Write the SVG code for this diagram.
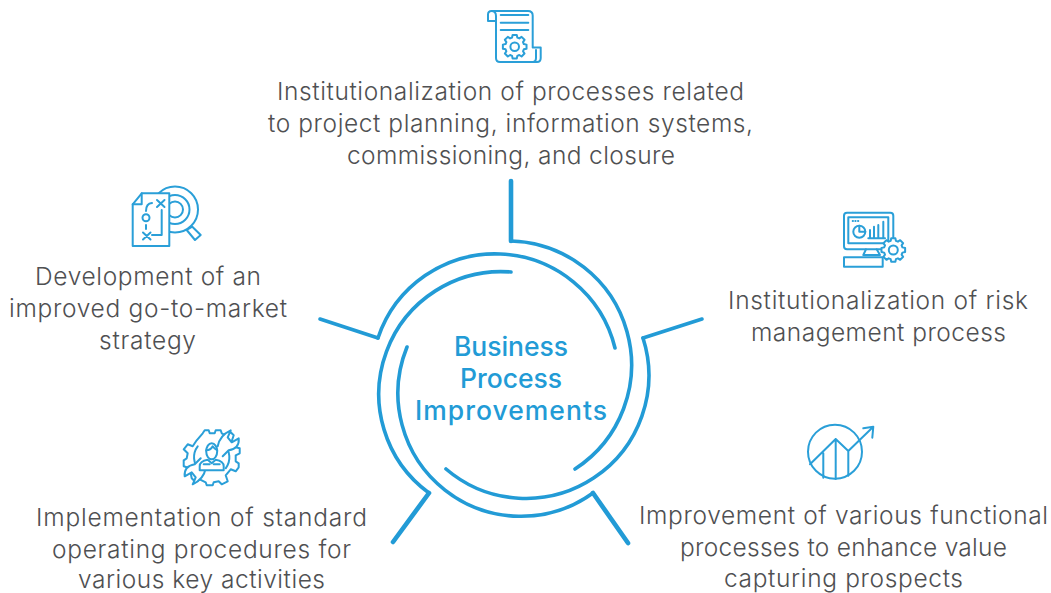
<svg xmlns="http://www.w3.org/2000/svg" width="1051" height="593" viewBox="0 0 1051 593">
<style>
.t{font-family:Inter,"Liberation Sans",sans-serif;font-size:24.500px;font-weight:300;fill:#4f5052}
.c{font-family:Inter,"Liberation Sans",sans-serif;font-size:26.500px;font-weight:500;fill:#229bd6}
.i{fill:none;stroke:#2a9fd8;stroke-width:2;stroke-linecap:round;stroke-linejoin:round}
.w{fill:#fff}
.a{fill:none;stroke:#229bd6;stroke-width:3.6;stroke-linecap:round;stroke-linejoin:miter}
.s{stroke-width:4.600}
</style>
<defs>
<polygon id="gear" points="9.13,-2.62 11.82,-2.08 11.82,2.08 9.13,2.62 8.31,4.61 9.83,6.88 6.88,9.83 4.61,8.31 2.62,9.13 2.08,11.82 -2.08,11.82 -2.62,9.13 -4.61,8.31 -6.88,9.83 -9.83,6.88 -8.31,4.61 -9.13,2.62 -11.82,2.08 -11.82,-2.08 -9.13,-2.62 -8.31,-4.61 -9.83,-6.88 -6.88,-9.83 -4.61,-8.31 -2.62,-9.13 -2.08,-11.82 2.08,-11.82 2.62,-9.13 4.61,-8.31 6.88,-9.83 9.83,-6.88 8.31,-4.61"/>
</defs>
<g id="connectors">
<path class="a" d="M511,241A124,124 0 0 1 575,469"/>
<path class="a" d="M643,338A123,123 0 0 1 446,469"/>
<path class="a" d="M593,493A123,123 0 0 1 407,347"/>
<path class="a" d="M429,493A122.500,122.500 0 0 1 511,272"/>
<path class="a" d="M378,338A123.500,123.500 0 0 1 615,348"/>
<path class="a s" d="M511,181V241"/>
<path class="a" d="M702,319L643,338"/>
<path class="a s" d="M628,543L593,493"/>
<path class="a s" d="M393,542L429,493"/>
<path class="a" d="M320,319L378,338"/>
</g>
<g id="center"><text class="c" x="454" y="356" textLength="114">Business</text><text class="c" x="460" y="388" textLength="102">Process</text><text class="c" x="415" y="420" textLength="192">Improvements</text></g>
<g id="node-top">
<g class="i">
<path d="M496,21H488V14.500Q488,11 491.500,11Q496,11 496,16V58Q496,62 500,62H537Q540.700,62 540.700,58V47.500H532.700M532.700,47.500V15.500Q532.700,11 528,11H491.500M500.700,15H528.300M500.700,22.700H528.300M500.700,30H528.300M532.700,62Q536,62 536,58V50"/>
<use href="#gear" transform="translate(514.700,46.700)"/>
<circle cx="514.700" cy="46.700" r="4.300"/>
</g>
<text class="t" x="277" y="100" textLength="467">Institutionalization of processes related</text>
<text class="t" x="268" y="132" textLength="485">to project planning, information systems,</text>
<text class="t" x="347" y="164" textLength="328">commissioning, and closure</text>
</g>
<g id="node-left">
<g class="i">
<circle cx="175" cy="209.500" r="23"/><circle cx="175" cy="209.500" r="14.500"/><circle cx="175" cy="209.500" r="8"/>
<path class="w" d="M186.700,230L195,240L200.700,235L192.300,226.700Z"/>
<path class="w" d="M132.700,204.300L141.700,193.300H169.300V246H132.700Z"/>
<path d="M141.700,193.300V204.300H132.700M157,200L164.500,207M164.500,200L157,207M146,211Q146,203.500 152,203M146,225V229M161.700,210V235H152M143,232.500L150.500,239.500M150.500,232.500L143,239.500"/>
<circle cx="146" cy="217.700" r="3.500"/>
</g>
<text class="t" x="35" y="285" textLength="226">Development of an</text>
<text class="t" x="9" y="317" textLength="278">improved go-to-market</text>
<text class="t" x="99" y="349" textLength="97">strategy</text>
</g>
<g id="node-right">
<g class="i">
<rect x="844" y="212.700" width="49.300" height="36.600" rx="3"/>
<rect x="848.300" y="217.300" width="40" height="26"/>
<path d="M852.700,221H853M855.300,221H855.600M858,221H858.300"/>
<circle cx="859.300" cy="231.700" r="6"/>
<path d="M859.300,225.700V231.700H865.300M868.300,238.300H885M870,238.300V230M874,238.300V226.700M878.300,238.300V225M883.300,238.300V221.700M866,249.300L863.300,255H880L876.700,249.300"/>
<rect x="844" y="257.300" width="38.700" height="9.400"/>
<use href="#gear" class="w" transform="translate(893.300,250)"/>
<circle cx="893.300" cy="250" r="4.500"/>
</g>
<text class="t" x="728" y="309" textLength="300">Institutionalization of risk</text>
<text class="t" x="751" y="341" textLength="255">management process</text>
</g>
<g id="node-lower-left">
<g class="i">
<g transform="translate(211.700,457.300)">
<path d="M-9,-24L-7,-27H-3L-2,-24H3L4,-27H9L10,-24L14,-22L19,-25L22,-22L20,-16L24,-10L28,-9V-4L24,-2L24,4L27,6V10L24,14L19,12L14,18L16,24L10,27L7,24L2,25L1,28H-5L-6,25L-12,22L-16,25L-20,21L-21,16L-25,10L-28,9V3L-25,1L-24,-4L-28,-8L-24,-13L-19,-11L-15,-17Z"/>
<path d="M12,-13A18,18 0 0 1 14,11M-12,13A18,18 0 0 1 -14,-11"/>
<path class="w" d="M6,-11Q8,-22 19,-27L16,-20L20,-15L27,-19Q28,-9 17,-7L11,-1"/>
<path class="w" d="M-6,11Q-8,22 -19,27L-16,20L-20,15L-27,19Q-28,9 -17,7L-11,1"/>
<path class="w" d="M-12,13V9Q-12,4 -4,2.500L0,6L4,2.500Q12,4 12,9V13Z"/>
<ellipse class="w" cx="0" cy="-6" rx="5.500" ry="8"/>
<path d="M-5.500,-7Q-1,-7 1,-11Q3,-8 5.500,-7M-8,7H-2M8,7H2"/>
</g>
</g>
<text class="t" x="36" y="526" textLength="331">Implementation of standard</text>
<text class="t" x="52" y="558" textLength="299">operating procedures for</text>
<text class="t" x="78" y="588" textLength="247">various key activities</text>
</g>
<g id="node-lower-right">
<g class="i">
<circle cx="835" cy="451.700" r="27"/>
<path d="M810,464.300L835.700,439L848.300,451L873.300,426.700M863.300,428.300L873.300,426.700L872.300,437.700M823.300,453.300V477.700M835.700,439V479M848.300,451V475.700"/>
</g>
<text class="t" x="639" y="524" textLength="409">Improvement of various functional</text>
<text class="t" x="680" y="556" textLength="327">processes to enhance value</text>
<text class="t" x="724" y="587" textLength="239">capturing prospects</text>
</g>
</svg>
